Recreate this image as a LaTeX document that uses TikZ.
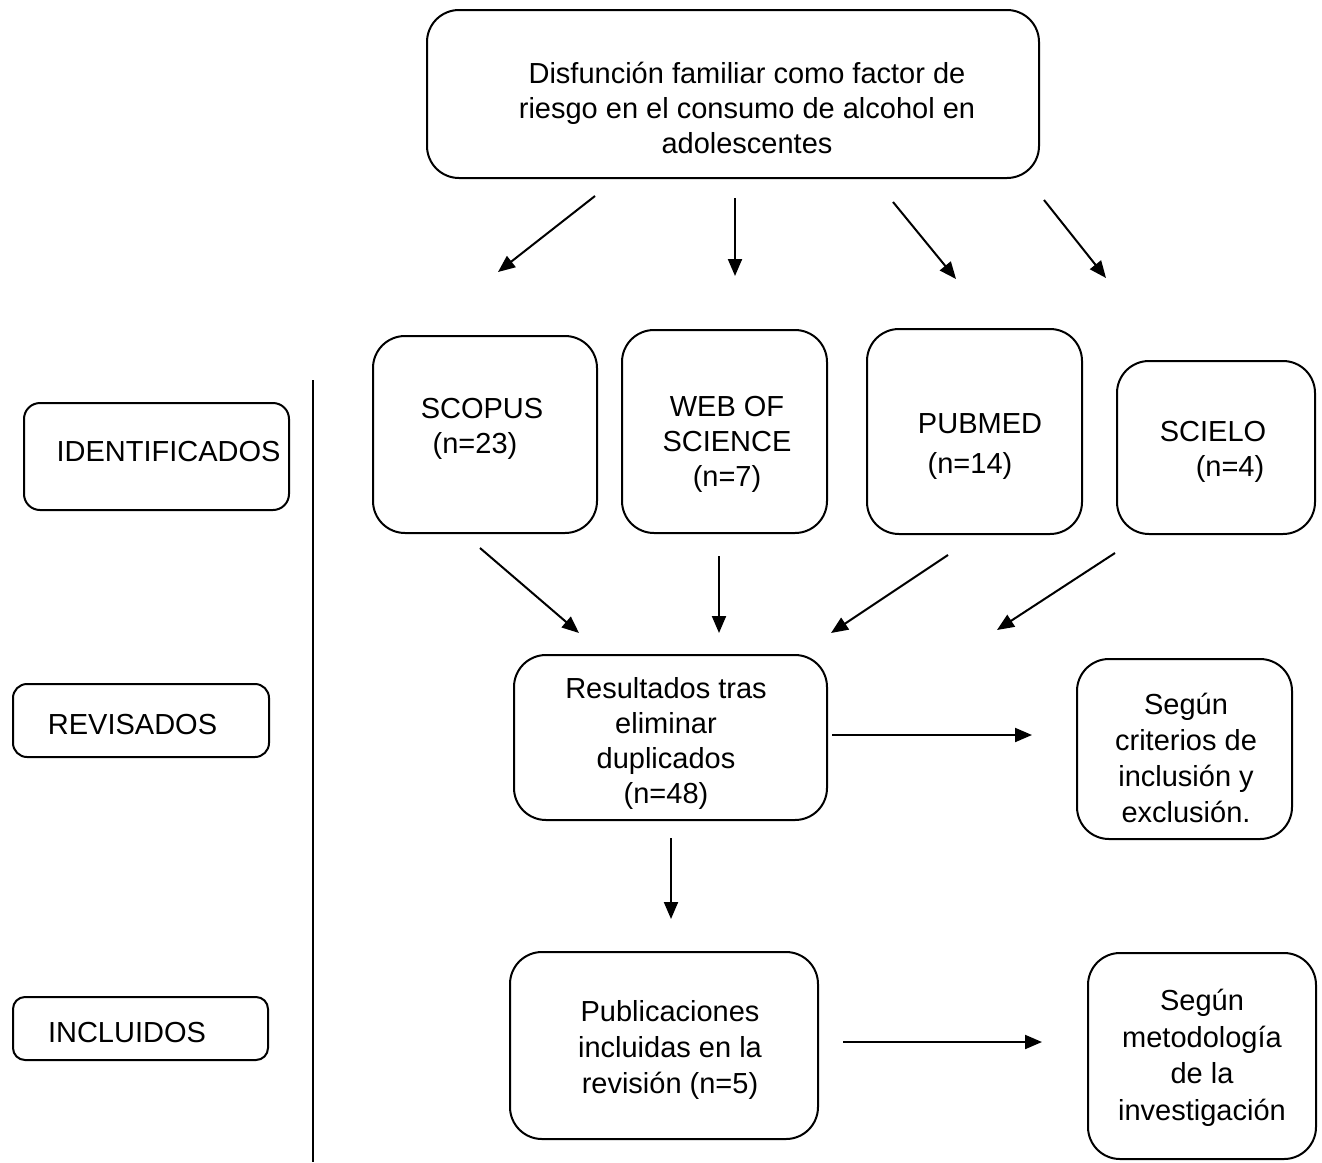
\documentclass[tikz,border=0pt]{standalone}
\usepackage{fontspec}
\setmainfont{Liberation Sans}
\usetikzlibrary{arrows.meta}
\begin{document}
\begin{tikzpicture}[x=1pt,y=-1pt,
  box/.style={draw=black,line width=2pt,rounded corners=#1,inner sep=0pt},
  box/.default=32pt,
  txt/.style={inner sep=0pt,align=center,font=\fontsize{29}{35}\selectfont},
  arr/.style={line width=2pt,-{Triangle[length=17pt,width=14pt]}}]
\useasboundingbox (0,0) rectangle (1322,1162);
% boxes
\node[box,minimum width=612pt,minimum height=168pt] (top) at (733,94) {};
\node[box,minimum width=224pt,minimum height=197pt] (scopus) at (485,434.5) {};
\node[box,minimum width=205pt,minimum height=203pt] (wos) at (724.5,431.5) {};
\node[box,minimum width=215pt,minimum height=205pt] (pubmed) at (974.5,431.5) {};
\node[box,minimum width=198pt,minimum height=173pt] (scielo) at (1216,447.5) {};
\node[box=16pt,minimum width=265pt,minimum height=107pt] (ident) at (156.5,456.5) {};
\node[box,minimum width=313pt,minimum height=165pt] (res) at (670.5,737.5) {};
\node[box,minimum width=215pt,minimum height=180pt] (seg1) at (1184.5,749) {};
\node[box=14pt,minimum width=256pt,minimum height=73pt] (revis) at (141,720.5) {};
\node[box,minimum width=308pt,minimum height=187pt] (pub) at (664,1045.5) {};
\node[box,minimum width=228pt,minimum height=206pt] (seg2) at (1202,1056) {};
\node[box=12pt,minimum width=255pt,minimum height=63pt] (incl) at (140.5,1028.5) {};
% texts
\node[txt] (topT) at (747,108) {Disfunción familiar como factor de\\riesgo en el consumo de alcohol en\\adolescentes};
\node[txt] (scopusT) at (482,429) {SCOPUS\\\hspace*{-14pt}(n=23)};
\node[txt] (wosT) at (727,444) {WEB OF\\SCIENCE\\(n=7)};
\node[txt] (pubmedT) at (980,447) {PUBMED\\[5pt]\hspace*{-20pt}(n=14)};
\node[txt] (scieloT) at (1213,452) {SCIELO\\\hspace*{34pt}(n=4)};
\node[txt] (identT) at (168.5,452) {IDENTIFICADOS};
\node[txt] (resT) at (666,743) {Resultados tras\\eliminar\\duplicados\\(n=48)};
\node[txt,font=\fontsize{29}{36}\selectfont] (seg1T) at (1186,758) {Según\\criterios de\\inclusión y\\exclusión.};
\node[txt] (revisT) at (132.5,725) {REVISADOS};
\node[txt,font=\fontsize{29}{36}\selectfont] (pubT) at (670,1050) {Publicaciones\\incluidas en la\\revisión (n=5)};
\node[txt,font=\fontsize{29}{36.5}\selectfont] (seg2T) at (1202,1058) {Según\\metodología\\de la\\investigación};
\node[txt] (inclT) at (127,1033) {INCLUIDOS};
% separator line
\coordinate (v1) at (313,380);
\coordinate (v2) at (313,1162);
\draw[line width=1.2pt] (v1) -- (v2);
% arrows from title
\coordinate (a1s) at (595,196); \coordinate (a1e) at (498,272);
\coordinate (a2s) at (735,198); \coordinate (a2e) at (735,276);
\coordinate (a3s) at (893,202); \coordinate (a3e) at (956,279);
\coordinate (a4s) at (1044,200); \coordinate (a4e) at (1106,278);
\draw[arr] (a1s) -- (a1e);
\draw[arr] (a2s) -- (a2e);
\draw[arr] (a3s) -- (a3e);
\draw[arr] (a4s) -- (a4e);
% arrows to results
\coordinate (b1s) at (480,548); \coordinate (b1e) at (579,633);
\coordinate (b2s) at (719,556); \coordinate (b2e) at (719,633);
\coordinate (b3s) at (948,555); \coordinate (b3e) at (831,633);
\coordinate (b4s) at (1115,553); \coordinate (b4e) at (997,630);
\draw[arr] (b1s) -- (b1e);
\draw[arr] (b2s) -- (b2e);
\draw[arr] (b3s) -- (b3e);
\draw[arr] (b4s) -- (b4e);
% other arrows
\coordinate (c1s) at (832,735); \coordinate (c1e) at (1032,735);
\coordinate (c2s) at (671,838); \coordinate (c2e) at (671,919);
\coordinate (c3s) at (843,1042); \coordinate (c3e) at (1042,1042);
\draw[arr] (c1s) -- (c1e);
\draw[arr] (c2s) -- (c2e);
\draw[arr] (c3s) -- (c3e);
\end{tikzpicture}
\end{document}
